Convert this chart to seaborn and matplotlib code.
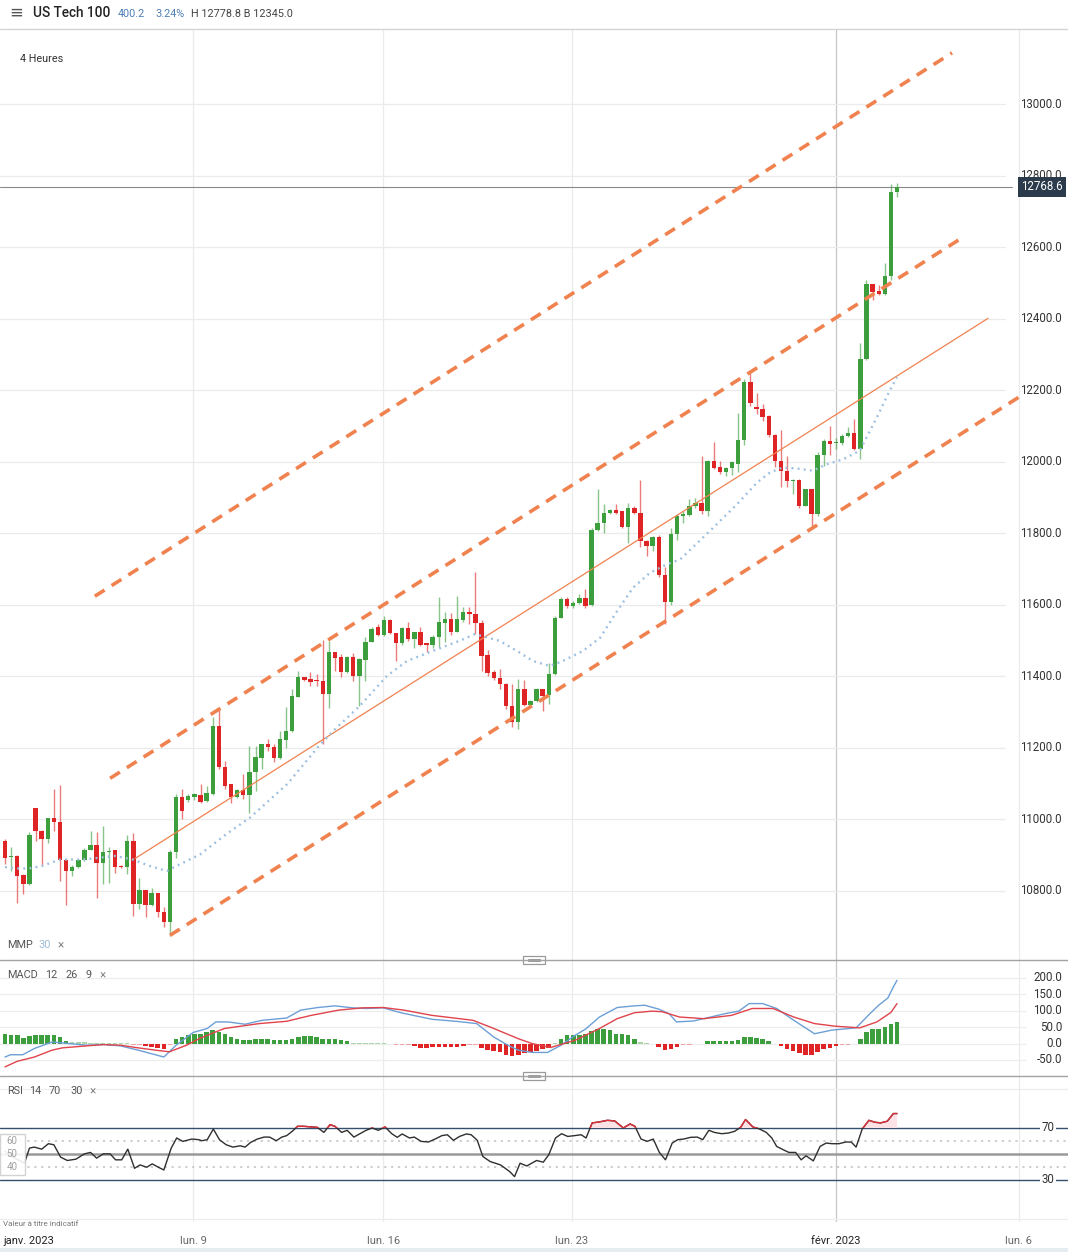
import numpy as np
import pandas as pd
import matplotlib
matplotlib.use("Agg")
import matplotlib.pyplot as plt
from matplotlib.patches import Rectangle
from matplotlib.lines import Line2D
import seaborn as sns

# ---- bougies 4h ----
opens = [10940, 10894, 10898, 10845, 10819, 11031, 10967, 10946, 11003, 10993,
         10888, 10856, 10867, 10886, 10916, 10928, 10879, 10910, 10914, 10869,
         10867, 10941, 10765, 10802, 10761, 10793, 10742, 10712, 10910, 11062,
         11054, 11063, 11069, 11052, 11071, 11260, 11148, 11099, 11063, 11082,
         11069, 11134, 11173, 11210, 11203, 11171, 11222, 11246, 11343, 11397,
         11392, 11389, 11386, 11350, 11467, 11455, 11411, 11455, 11401, 11445,
         11497, 11537, 11516, 11557, 11520, 11492, 11535, 11504, 11525, 11492,
         11488, 11509, 11548, 11560, 11525, 11557, 11581, 11575, 11550, 11460,
         11413, 11395, 11378, 11317, 11273, 11364, 11320, 11331, 11364, 11348,
         11406, 11564, 11615, 11597, 11606, 11620, 11599, 11808, 11830, 11858,
         11864, 11861, 11818, 11870, 11858, 11779, 11765, 11790, 11684, 11609,
         11799, 11849, 11851, 11877, 11886, 11863, 12001, 11984, 11970, 11982,
         11995, 12061, 12222, 12152, 12147, 12129, 12076, 12003, 11973, 11947,
         11949, 11877, 11923, 11855, 12020, 12057, 12051, 12051, 12073, 12079,
         12035, 12287, 12496, 12477, 12468, 12518, 12754]
highs = [10944, 10923, 10900, 10848, 10966, 11031, 10970, 11004, 11085, 11096,
         10890, 10874, 10889, 10919, 10967, 10966, 10981, 10923, 10916, 10872,
         10956, 10962, 10835, 10804, 10807, 10795, 10755, 10915, 11070, 11086,
         11070, 11074, 11099, 11094, 11286, 11305, 11164, 11100, 11085, 11127,
         11206, 11206, 11212, 11224, 11210, 11248, 11313, 11364, 11414, 11399,
         11413, 11408, 11501, 11499, 11469, 11462, 11457, 11464, 11451, 11509,
         11537, 11546, 11569, 11559, 11522, 11539, 11551, 11525, 11539, 11494,
         11516, 11622, 11581, 11576, 11625, 11594, 11594, 11693, 11557, 11473,
         11417, 11420, 11382, 11379, 11392, 11389, 11333, 11368, 11366, 11436,
         11569, 11622, 11622, 11610, 11629, 11643, 11814, 11923, 11881, 11869,
         11881, 11863, 11886, 11876, 11948, 11781, 11792, 11796, 11706, 11814,
         11855, 11862, 11895, 11900, 12017, 12005, 12054, 12003, 11986, 12002,
         12135, 12231, 12250, 12191, 12161, 12131, 12078, 12089, 12017, 11951,
         11951, 11925, 11925, 12026, 12063, 12101, 12066, 12077, 12096, 12120,
         12331, 12509, 12498, 12493, 12555, 12776, 12779]
lows = [10875, 10856, 10767, 10791, 10817, 10941, 10872, 10934, 10967, 10828,
        10762, 10842, 10865, 10884, 10914, 10781, 10819, 10823, 10851, 10863,
        10848, 10730, 10749, 10728, 10759, 10728, 10700, 10675, 10893, 11000,
        11050, 11053, 11045, 11050, 11069, 11141, 11085, 11047, 11061, 11057,
        11017, 11080, 11141, 11192, 11162, 11168, 11199, 11244, 11341, 11387,
        11374, 11374, 11212, 11311, 11414, 11399, 11409, 11387, 11318, 11387,
        11495, 11513, 11514, 11518, 11442, 11489, 11499, 11479, 11485, 11467,
        11479, 11483, 11495, 11516, 11523, 11551, 11547, 11518, 11415, 11401,
        11389, 11364, 11308, 11259, 11252, 11317, 11317, 11329, 11303, 11324,
        11404, 11562, 11590, 11592, 11603, 11592, 11597, 11806, 11802, 11855,
        11855, 11814, 11774, 11853, 11762, 11737, 11751, 11678, 11547, 11600,
        11780, 11830, 11849, 11872, 11853, 11849, 11979, 11965, 11961, 11964,
        11970, 12048, 12157, 12134, 12113, 12068, 11984, 11930, 11930, 11909,
        11872, 11875, 11818, 11849, 11989, 12020, 12035, 12048, 12070, 12033,
        12007, 12285, 12451, 12465, 12466, 12507, 12740]
closes = [10893, 10897, 10842, 10819, 10956, 10967, 10946, 11003, 10993, 10888,
          10856, 10867, 10886, 10916, 10928, 10879, 10910, 10912, 10867, 10867,
          10941, 10765, 10802, 10761, 10793, 10740, 10712, 10910, 11062, 11025,
          11065, 11071, 11050, 11073, 11260, 11146, 11094, 11063, 11082, 11069,
          11134, 11175, 11210, 11203, 11171, 11224, 11248, 11346, 11397, 11389,
          11385, 11386, 11350, 11467, 11451, 11411, 11455, 11401, 11448, 11497,
          11532, 11516, 11557, 11520, 11492, 11535, 11504, 11523, 11488, 11488,
          11509, 11551, 11560, 11525, 11560, 11581, 11575, 11550, 11457, 11410,
          11395, 11378, 11317, 11273, 11364, 11320, 11331, 11364, 11345, 11406,
          11564, 11615, 11597, 11606, 11620, 11597, 11808, 11830, 11858, 11864,
          11858, 11818, 11870, 11858, 11779, 11765, 11790, 11684, 11609, 11799,
          11848, 11853, 11877, 11886, 11863, 12001, 11982, 11970, 11982, 11998,
          12061, 12222, 12163, 12147, 12126, 12076, 12003, 11973, 11947, 11949,
          11877, 11923, 11855, 12020, 12059, 12049, 12054, 12073, 12079, 12035,
          12287, 12496, 12474, 12468, 12518, 12754, 12768.6]
last_price = 12768.6

# moyenne mobile pondérée 30 (points lus)
ma_x = [0, 2.0, 3.9, 6.1, 9.0, 12.8, 15.5, 18.0, 20.9, 23.7, 26.5, 27.5, 31.9, 36.3, 40.1,
        46.2, 51.6, 54.3, 58.1, 62.5, 65.8, 70.0, 74.5, 76.9, 81.0, 83.8, 86.4, 89.2, 91.3,
        94.6, 97.4, 100.2, 102.8, 105.6, 108.3, 110.5, 115.4, 119.8, 123.1, 125.2, 127.3,
        129.6, 132.2, 134.5, 137.2, 139.9, 142.7, 144.8, 146.0]
ma_y = [10867, 10863, 10863, 10870, 10888, 10888, 10893, 10898, 10888, 10870, 10856, 10865,
        10902, 10960, 11005, 11099, 11210, 11257, 11318, 11401, 11443, 11471, 11500, 11518,
        11499, 11471, 11443, 11429, 11443, 11471, 11508, 11583, 11648, 11690, 11713, 11727,
        11807, 11881, 11942, 11970, 11984, 11981, 11975, 11993, 12007, 12031, 12124, 12199, 12236]

# canal (dates en index de bougie, niveaux de prix)
chan_x = [[14.7, 155.0], [17.2, 157.1], [27.0, 167.0]]
chan_y = [[11624, 13143], [11115, 12631], [10676, 12192]]
mid_x = [21.3, 160.9]
mid_y = [10891, 12401]

# MACD 12 26 9
macd_x = [0, 0.9, 2.9, 4.8, 7.7, 10.5, 13.3, 16.1, 18.9, 21.8, 24.6, 26.0, 28.0, 30.8, 33.1,
          34.5, 36.5, 39.3, 42.1, 46.1, 48.4, 51.2, 54.0, 56.9, 59.1, 61.9, 64.8, 69.9, 73.8,
          77.2, 80.0, 82.3, 84.0, 86.3, 88.8, 91.0, 93.3, 95.0, 97.3, 100.2, 103.0, 104.7,
          107.0, 108.7, 109.9, 112.7, 115.5, 117.8, 120.1, 121.8, 124.0, 126.3, 129.1, 132.5,
          135.3, 139.3, 141.6, 143.0, 144.5, 145.4, 146.0]
macd_y = [-41, -34, -34, -15, 5, 0, -5, -3, -7, -20, -34, -41, -5, 34, 46, 66, 66, 59, 71, 78,
          102, 110, 115, 109, 107, 109, 94, 74, 68, 61, 20, -5, -20, -27, -27, -5, 25, 44, 81,
          110, 115, 117, 105, 91, 66, 69, 81, 91, 99, 122, 122, 107, 71, 30, 41, 48, 92, 117,
          139, 173, 193]
sig_x = [0, 2.0, 4.8, 7.7, 9.4, 13.3, 16.1, 18.9, 21.8, 24.6, 26.9, 29.7, 32.0, 35.9, 41.6,
         46.1, 50.1, 54.6, 58.5, 61.9, 65.3, 69.9, 76.6, 80.0, 84.0, 86.3, 89.3, 93.3, 97.3,
         100.2, 103.0, 105.9, 107.6, 110.4, 114.4, 118.9, 122.3, 125.7, 129.1, 132.5, 135.9,
         139.9, 142.7, 145.0, 146.0]
sig_y = [-71, -54, -41, -20, -13, -7, -3, -5, -13, -20, -25, -5, 17, 46, 61, 68, 86, 102, 109,
         110, 102, 86, 71, 46, 15, 0, -12, 10, 46, 76, 94, 99, 97, 81, 76, 86, 107, 107, 81,
         61, 53, 48, 66, 95, 122]
macd_hist = [30, 27, 25, 17, 23, 25, 25, 25, 27, 19,
             9, 5, 5, 5, 3, 3, 3, 3, 1, 1,
             2, -3, -5, -7, -10, -13, -15, -5, 13, 20,
             27, 30, 30, 34, 41, 36, 30, 20, 15, 10,
             10, 13, 13, 13, 10, 10, 10, 13, 20, 22,
             22, 20, 15, 13, 13, 10, 7, 2, 1, 1,
             2, 2, 1, 0, -3, -3, -5, -7, -13, -13,
             -10, -10, -10, -10, -10, -7, -5, -5, -13, -20,
             -23, -27, -34, -38, -34, -30, -25, -23, -17, -13,
             3, 15, 25, 25, 25, 30, 38, 44, 44, 40,
             30, 30, 25, 15, 5, 2, -1, -10, -20, -17,
             -10, -5, -3, -2, -1, 7, 7, 7, 7, 7,
             10, 20, 20, 17, 13, 7, -2, -7, -17, -23,
             -30, -34, -36, -27, -17, -13, -7, -5, -3, -2,
             13, 34, 44, 46, 51, 61, 66]

# RSI 14
rsi_x = [0, 1.5, 3.2, 4.0, 4.8, 6.0, 7.1, 8.0, 9.1, 10.2, 11.6, 13.0, 14.0, 15.0, 16.1, 17.2,
         18.1, 19.1, 20.1, 21.2, 22.1, 23.2, 24.1, 25.1, 26.0, 27.2, 28.1, 29.1, 30.6, 31.7,
         32.2, 33.1, 34.1, 35.1, 36.2, 37.3, 38.5, 39.3, 40.2, 41.3, 42.4, 43.3, 44.4, 45.3,
         46.1, 47.0, 47.9, 48.9, 50.1, 51.1, 52.2, 53.2, 54.0, 55.1, 56.0, 57.1, 58.1, 59.1,
         60.1, 61.1, 62.2, 63.3, 64.2, 65.0, 66.2, 67.0, 68.1, 69.3, 70.4, 71.5, 72.4, 73.4,
         74.4, 75.5, 76.3, 77.3, 78.2, 79.4, 81.1, 82.6, 83.4, 84.3, 85.4, 87.0, 88.1, 89.0,
         90.1, 91.1, 92.1, 93.2, 94.3, 95.1, 96.1, 97.2, 98.6, 99.8, 101.2, 102.3, 103.1,
         104.1, 105.1, 106.1, 107.1, 108.1, 109.2, 110.1, 111.1, 112.2, 113.3, 114.2, 115.2,
         116.1, 117.3, 118.4, 119.4, 120.4, 121.2, 122.4, 123.5, 124.6, 125.5, 126.3, 127.4,
         128.3, 129.4, 130.3, 131.1, 132.3, 133.4, 134.4, 135.4, 136.5, 137.6, 138.5, 139.3,
         140.3, 141.4, 142.4, 143.3, 144.4, 145.4, 146.0]
rsi_y = [52, 47, 43, 54.5, 55.3, 53.7, 57.9, 57.1, 47.6, 45, 46, 50.1, 51.2, 46.8, 50.1, 50.1,
         45.5, 45.5, 53.7, 39, 41.6, 39.8, 42.4, 39.8, 37.7, 54.5, 62.3, 59.7, 61.5, 61,
         60.2, 61, 69.2, 61, 57.1, 55.3, 56.3, 55.3, 58.9, 61.5, 63, 63, 60.2, 63,
         64.1, 67.4, 71.3, 71.3, 70.8, 70.5, 66.6, 72.6, 71.3, 66.6, 68.2, 63, 65.6, 68.2,
         70, 68.2, 70.8, 65.6, 62.8, 65.4, 62.3, 63, 59.7, 59.2, 61.5, 64.1, 64.8, 60.5,
         63.5, 65.4, 64.8, 60.5, 48.1, 44.2, 41.6, 36.5, 32.6, 42.9, 40.8, 45, 43.7, 49.4,
         62.3, 65.6, 63.5, 64.1, 64.8, 62.3, 73.9, 74.6, 75.9, 75.4, 70, 73.1, 71.3,
         61.5, 59.7, 61.5, 51.2, 45.5, 58.4, 61, 61.5, 62.8, 63, 61, 68.2,
         66.6, 65.6, 66.1, 67.4, 70.5, 76.5, 70.8, 69.2, 66.6, 62.3, 55.8, 53.2,
         51.2, 51.2, 45.5, 48.6, 44.7, 55.8, 58.4, 57.9, 57.9, 59.2, 59.2, 55.3,
         69.2, 75.9, 74.4, 73.9, 75.2, 81.1, 81.1]

# axe des dates
tick_pos = [-0.33, 30.8, 61.9, 92.8, 136.0, 165.9]
tick_labels = ["janv. 2023", "lun. 9", "lun. 16", "lun. 23", "févr. 2023", "lun. 6"]
price_levels = [10800, 11000, 11200, 11400, 11600, 11800, 12000, 12200, 12400, 12600, 12800, 13000]
macd_levels = [-50, 0, 50, 100, 150, 200]

W, H = 1068, 1252
GREEN, RED = "#3d9e3d", "#de2424"
ORANGE = "#f0824f"

sns.set_theme(style="white")
plt.rcParams["font.family"] = ["Roboto", "DejaVu Sans"]

fig = plt.figure(figsize=(W / 100, H / 100), dpi=100)


def fy(py):
    return 1 - py / H


def ftext(px, py, s, **kw):
    kw.setdefault("va", "center")
    return fig.text(px / W, fy(py), s, **kw)


ax_p = fig.add_axes([0, fy(960), 1, 930 / H])
ax_m = fig.add_axes([0, fy(1076), 1, 115 / H])
ax_r = fig.add_axes([0, fy(1222), 1, 145 / H])
XLIM = (-0.818, 173.98)

# grilles verticales
for ax in (ax_p, ax_m, ax_r):
    ax.axis("off")
    for pos, lab in zip(tick_pos[1:], tick_labels[1:]):
        c = "#c6c6c6" if "févr" in lab else "#ebebeb"
        ax.axvline(pos, color=c, lw=0.9, zorder=0)

# ---- prix ----
for lvl in price_levels:
    ax_p.axhline(lvl, xmax=1005 / W, color="#ebebeb", lw=0.9, zorder=0)
    ax_p.text(1062 / W, lvl, f"{lvl:.1f}", transform=ax_p.get_yaxis_transform(),
              ha="right", va="center", fontsize=8.3, color="#333333")

df = pd.DataFrame({"o": opens, "h": highs, "l": lows, "c": closes})
df["x"] = np.arange(len(df))
cols = np.where(df["c"] >= df["o"], GREEN, RED)
ax_p.vlines(df["x"], df["l"], df["h"], colors=cols, lw=1.0, alpha=0.6, zorder=3)
body = (df["c"] - df["o"]).abs().clip(lower=3)
ax_p.bar(df["x"], body, bottom=df[["o", "c"]].min(axis=1), width=0.72,
         color=cols, lw=0, zorder=4)

for cx, cy in zip(chan_x, chan_y):
    ax_p.plot(cx, cy, color=ORANGE, lw=2.6, ls=(0, (3.2, 2.3)), zorder=5)
ax_p.plot(mid_x, mid_y, color=ORANGE, lw=0.9, zorder=5)

sns.lineplot(x=ma_x, y=ma_y, ax=ax_p, color="#9dbfe0", lw=1.7,
             linestyle=(0, (0.8, 1.8)), zorder=6)

ax_p.axhline(last_price, xmax=1012 / W, color="#8a8a8a", lw=0.8, zorder=2)
ax_p.text(1063 / W, last_price, f"{last_price:.1f}", transform=ax_p.get_yaxis_transform(),
          ha="right", va="center", fontsize=8.3, color="white", zorder=10,
          bbox=dict(boxstyle="square,pad=0.3", fc="#2b3b4c", ec="none"))

ax_p.set_xlim(*XLIM)
ax_p.set_ylim(10607.1, 13206.9)

# ---- MACD ----
for lvl in macd_levels:
    ax_m.axhline(lvl, xmax=1025 / W, color="#ededed", lw=0.9, zorder=0)
    ax_m.text(1062 / W, lvl, f"{lvl:.1f}", transform=ax_m.get_yaxis_transform(),
              ha="right", va="center", fontsize=8.3, color="#333333")
hcol = [(GREEN if v >= 0 else RED) if abs(v) >= 6 else ("#a9d7a9" if v >= 0 else "#f2a3a3")
        for v in macd_hist]
ax_m.bar(np.arange(len(macd_hist)), macd_hist, width=0.75, color=hcol, lw=0, zorder=3)
sns.lineplot(x=macd_x, y=macd_y, ax=ax_m, color="#6c9fd6", lw=1.0, zorder=4)
sns.lineplot(x=sig_x, y=sig_y, ax=ax_m, color="#e0434b", lw=1.0, zorder=5)
ax_m.set_xlim(*XLIM)
ax_m.set_ylim(-98.8, 251.8)

# ---- RSI ----
rx = np.array(rsi_x)
ry = np.array(rsi_y)
for lvl in (0, 100):
    ax_r.axhline(lvl, color="#ededed", lw=0.9, zorder=0)
for lvl in (40, 60):
    ax_r.axhline(lvl, color="#c9c9c9", lw=1.3, ls=(0, (1.2, 2.6)), zorder=1)
ax_r.axhline(50, color="#9a9a9a", lw=1.8, zorder=1)
for lvl in (30, 70):
    ax_r.axhline(lvl, color="#34506e", lw=1.0, zorder=1)
ax_r.fill_between(rx, 70, ry, where=ry > 70, interpolate=True, color="#fde3e6", lw=0, zorder=2)
sns.lineplot(x=rx, y=ry, ax=ax_r, color="#2f2f2f", lw=1.0, zorder=4)
red_line, = ax_r.plot(rx, ry, color="#e0303a", lw=1.0, zorder=5)
red_line.set_clip_path(Rectangle((XLIM[0], 70), XLIM[1] - XLIM[0], 50, transform=ax_r.transData))
for lvl in (70, 30):
    ax_r.text(1048 / W, lvl, str(lvl), transform=ax_r.get_yaxis_transform(), ha="center",
              va="center", fontsize=8.3, color="#333333", zorder=8,
              bbox=dict(boxstyle="square,pad=0.1", fc="white", ec="none"))
ax_r.set_xlim(*XLIM)
ax_r.set_ylim(-2.3, 109.2)

# boîte d'échelle à gauche du RSI
fig.add_artist(Rectangle((0, fy(1175)), 25 / W, 41 / H, fc="white", ec="#cfcfcf",
                         lw=1.0, alpha=0.9))
for v, py in ((60, 1141), (50, 1154), (40, 1167)):
    ftext(12, py, str(v), ha="center", fontsize=7, color="#a0a0a0")

# ---- en-tête et séparateurs ----
fig.add_artist(Line2D([0, 1], [fy(29), fy(29)], color="#d4d4d4", lw=1.0))
for py in (960, 1076):
    fig.add_artist(Line2D([0, 1], [fy(py), fy(py)], color="#a3a3a3", lw=1.0))
    fig.add_artist(Rectangle((523 / W, fy(py + 4)), 22 / W, 8 / H, fc="white",
                             ec="#9a9a9a", lw=0.9))
    for dy in (-1.3, 1.3):
        fig.add_artist(Line2D([528 / W, 540 / W], [fy(py + dy)] * 2, color="#9a9a9a", lw=0.7))
fig.add_artist(Rectangle((0, 0), 1, 4 / H, fc="#e6edf0", ec="none"))

ftext(9, 13, "≡", fontsize=12, color="#555555")
ftext(33, 13, "US Tech 100", fontsize=9.8, color="#222222", weight="medium")
ftext(118, 14, "400.2", fontsize=7.8, color="#4f7fb5")
ftext(155, 14, "3.24%", fontsize=7.8, color="#4f7fb5")
ftext(191, 14, "H 12778.8 B 12345.0", fontsize=7.8, color="#444444")
ftext(20, 59, "4 Heures", fontsize=7.8, color="#333333")

ftext(7, 945, "MMP", fontsize=7.8, color="#555555")
ftext(38, 945, "30", fontsize=7.8, color="#9fbcd8")
ftext(57, 945, "×", fontsize=8.5, color="#888888")
ftext(7, 975, "MACD", fontsize=7.8, color="#555555")
ftext(45, 975, "12", fontsize=7.8, color="#555555")
ftext(66, 975, "26", fontsize=7.8, color="#555555")
ftext(86, 975, "9", fontsize=7.8, color="#555555")
ftext(99, 975, "×", fontsize=8.5, color="#888888")
ftext(7, 1091, "RSI", fontsize=7.8, color="#555555")
ftext(29, 1091, "14", fontsize=7.8, color="#555555")
ftext(49, 1091, "70", fontsize=7.8, color="#555555")
ftext(70, 1091, "30", fontsize=7.8, color="#555555")
ftext(89, 1091, "×", fontsize=8.5, color="#888888")

ftext(3, 1224, "Valeur à titre indicatif", fontsize=5.8, color="#777777")

# étiquettes de dates
for pos, lab in zip(tick_pos, tick_labels):
    px = (pos - XLIM[0]) / (XLIM[1] - XLIM[0]) * W
    dark = "janv" in lab or "févr" in lab
    ftext(px if lab != tick_labels[0] else 3, 1241, lab,
          ha="left" if lab == tick_labels[0] else "center",
          fontsize=8, color="#222222" if dark else "#666666")

fig.savefig("out.png", dpi=100, facecolor="white")
